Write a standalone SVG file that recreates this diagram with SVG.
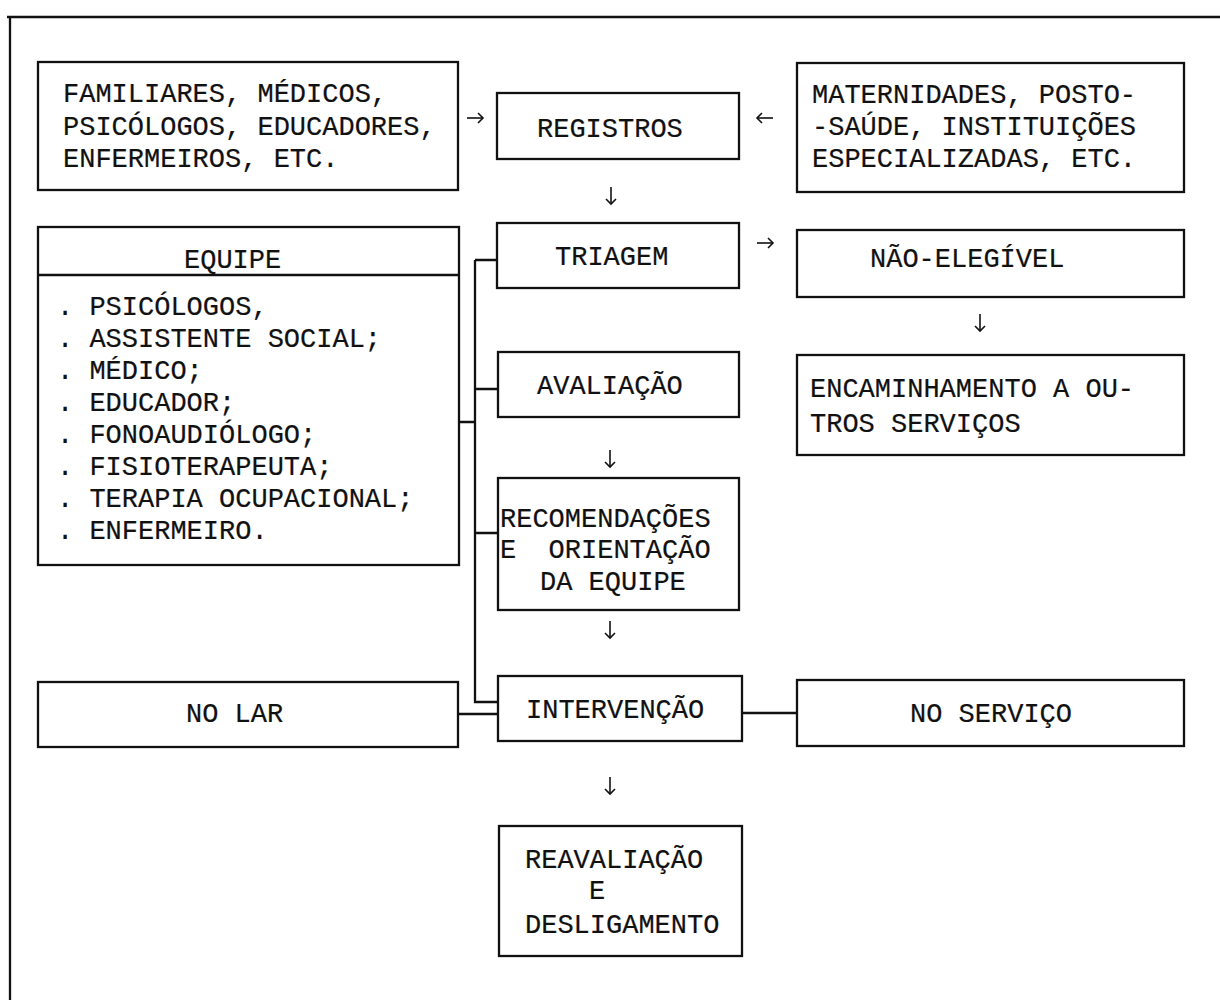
<svg xmlns="http://www.w3.org/2000/svg" width="1220" height="1000" viewBox="0 0 1220 1000">
<defs>
<style>
.box{fill:#fff;stroke:#111;stroke-width:2.3}
.ln{fill:none;stroke:#111;stroke-width:2.3}
.ar{fill:none;stroke:#111;stroke-width:1.6}
text{font-family:"Liberation Mono","Courier New",monospace;font-size:27px;fill:#111;stroke:#111;stroke-width:0.2;white-space:pre}
</style>
<marker id="head" markerUnits="userSpaceOnUse" markerWidth="14" markerHeight="14" refX="7" refY="7" orient="auto" viewBox="0 0 14 14">
<path d="M2,2 L7,7 L2,12" fill="none" stroke="#111" stroke-width="1.6"/>
</marker>
</defs>
<rect width="1220" height="1000" fill="#fff"/>
<g id="frame">
<path class="ln" d="M7,17 H1220 M10,17 V1000"/>
</g>
<g id="connectors">
<path class="ln" d="M475,260 V702 H498 M475,260 H497 M475,389 H498 M475,533 H498 M459,422 H475 M458,714 H498 M742,713 H797"/>
<path class="ar" d="M467,118 H483" marker-end="url(#head)"/>
<path class="ar" d="M773,118 H757" marker-end="url(#head)"/>
<path class="ar" d="M611,187 V204" marker-end="url(#head)"/>
<path class="ar" d="M757,243 H773" marker-end="url(#head)"/>
<path class="ar" d="M980,314 V331" marker-end="url(#head)"/>
<path class="ar" d="M610,450 V467" marker-end="url(#head)"/>
<path class="ar" d="M610,621 V638" marker-end="url(#head)"/>
<path class="ar" d="M610,777 V794" marker-end="url(#head)"/>
</g>
<g id="familiares">
<rect class="box" x="38" y="62" width="420" height="128"/>
<text x="63" y="102">FAMILIARES, MÉDICOS,</text>
<text x="63" y="135">PSICÓLOGOS, EDUCADORES,</text>
<text x="63" y="167">ENFERMEIROS, ETC.</text>
</g>
<g id="registros">
<rect class="box" x="497" y="93" width="242" height="66"/>
<text x="537" y="137">REGISTROS</text>
</g>
<g id="maternidades">
<rect class="box" x="797" y="63" width="387" height="129"/>
<text x="812" y="103">MATERNIDADES, POSTO-</text>
<text x="812" y="135">-SAÚDE, INSTITUIÇÕES</text>
<text x="812" y="167">ESPECIALIZADAS, ETC.</text>
</g>
<g id="equipe">
<rect class="box" x="38" y="227" width="421" height="338"/>
<path class="ln" d="M38,275 H459"/>
<text x="184" y="268">EQUIPE</text>
<text x="57" y="315">. PSICÓLOGOS,</text>
<text x="57" y="347">. ASSISTENTE SOCIAL;</text>
<text x="57" y="379">. MÉDICO;</text>
<text x="57" y="411">. EDUCADOR;</text>
<text x="57" y="443">. FONOAUDIÓLOGO;</text>
<text x="57" y="475">. FISIOTERAPEUTA;</text>
<text x="57" y="507">. TERAPIA OCUPACIONAL;</text>
<text x="57" y="539">. ENFERMEIRO.</text>
</g>
<g id="triagem">
<rect class="box" x="497" y="223" width="242" height="65"/>
<text x="555" y="265">TRIAGEM</text>
</g>
<g id="nao-elegivel">
<rect class="box" x="797" y="230" width="387" height="67"/>
<text x="870" y="267">NÃO-ELEGÍVEL</text>
</g>
<g id="encaminhamento">
<rect class="box" x="797" y="355" width="387" height="100"/>
<text x="810" y="397">ENCAMINHAMENTO A OU-</text>
<text x="810" y="432">TROS SERVIÇOS</text>
</g>
<g id="avaliacao">
<rect class="box" x="498" y="352" width="241" height="65"/>
<text x="537" y="394">AVALIAÇÃO</text>
</g>
<g id="recomendacoes">
<rect class="box" x="498" y="478" width="241" height="132"/>
<text x="500" y="527">RECOMENDAÇÕES</text>
<text x="500" y="558">E  ORIENTAÇÃO</text>
<text x="540" y="590">DA EQUIPE</text>
</g>
<g id="no-lar">
<rect class="box" x="38" y="682" width="420" height="65"/>
<text x="186" y="722">NO LAR</text>
</g>
<g id="intervencao">
<rect class="box" x="498" y="676" width="244" height="65"/>
<text x="526" y="718">INTERVENÇÃO</text>
</g>
<g id="no-servico">
<rect class="box" x="797" y="680" width="387" height="66"/>
<text x="910" y="722">NO SERVIÇO</text>
</g>
<g id="reavaliacao">
<rect class="box" x="499" y="826" width="243" height="130"/>
<text x="525" y="868">REAVALIAÇÃO</text>
<text x="589" y="899">E</text>
<text x="525" y="933">DESLIGAMENTO</text>
</g>
</svg>
